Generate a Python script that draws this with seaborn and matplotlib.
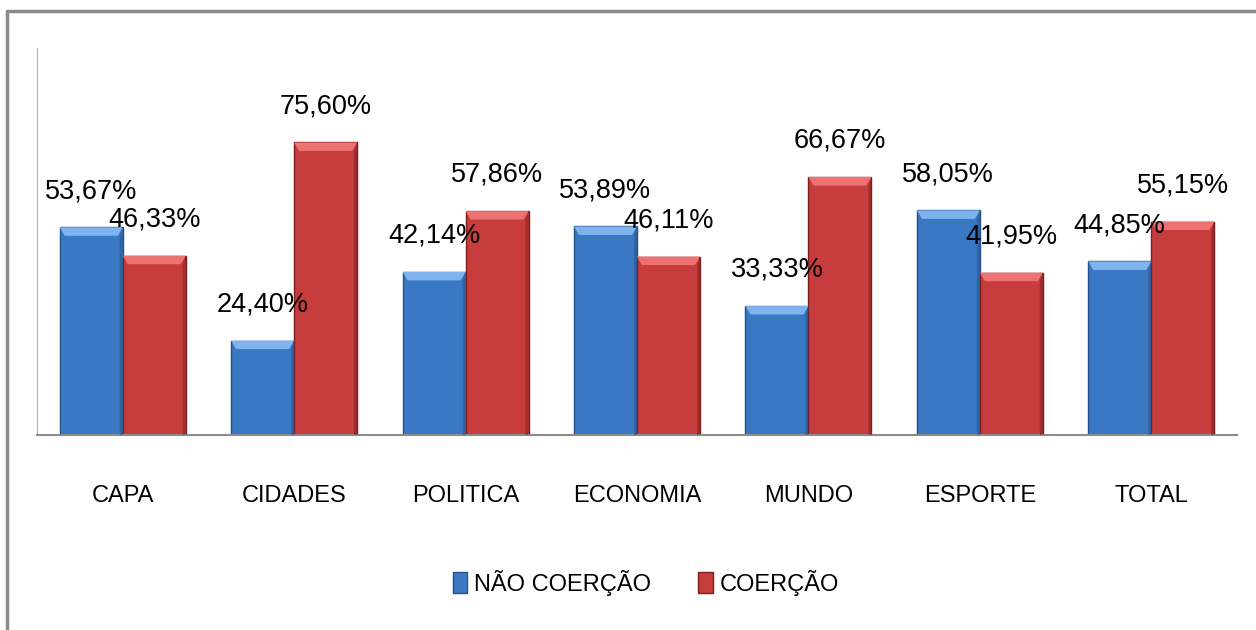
import pandas as pd
import matplotlib.pyplot as plt
import seaborn as sns
from matplotlib.lines import Line2D
from matplotlib.patches import Polygon

# Data
categories = ['CAPA', 'CIDADES', 'POLITICA', 'ECONOMIA', 'MUNDO', 'ESPORTE', 'TOTAL']
nao_coercao = [53.67, 24.40, 42.14, 53.89, 33.33, 58.05, 44.85]
coercao = [46.33, 75.60, 57.86, 46.11, 66.67, 41.95, 55.15]
series = ['NÃO COERÇÃO', 'COERÇÃO']
colors = ['#3b78c4', '#c73c3c']
edge_colors = ['#24508a', '#7a1e1e']
top_colors = ['#7fb3ee', '#ee7272']

df = pd.DataFrame({
    'categoria': categories * 2,
    'serie': [series[0]] * len(categories) + [series[1]] * len(categories),
    'valor': nao_coercao + coercao,
})

sns.set_style('white')
plt.rcParams['font.family'] = ['Liberation Sans', 'DejaVu Sans']

fig = plt.figure(figsize=(12.56, 6.3), dpi=100)
ax = fig.add_axes([37 / 1256, 1 - 435 / 630, 1200 / 1256, 387 / 630])

sns.barplot(data=df, x='categoria', y='valor', hue='serie', hue_order=series,
            palette=colors, width=0.735, saturation=1, ax=ax, legend=False)

ax.set_xlim(-0.5, len(categories) - 0.5)
ax.set_ylim(0, 100)

# bevel look + value labels
for i, container in enumerate(ax.containers):
    for bar, val in zip(container, [nao_coercao, coercao][i]):
        bar.set_edgecolor(edge_colors[i])
        bar.set_linewidth(1.0)
        x0, y0 = bar.get_x(), bar.get_y()
        w, h = bar.get_width(), bar.get_height()
        bevel_x = w * 0.08
        bevel_y = 2.2
        ax.add_patch(Polygon([[x0, y0 + h], [x0 + w, y0 + h],
                              [x0 + w - bevel_x, y0 + h - bevel_y],
                              [x0 + bevel_x, y0 + h - bevel_y]],
                             closed=True, facecolor=top_colors[i], edgecolor='none', zorder=3))
        ax.add_patch(Polygon([[x0 + w, y0], [x0 + w, y0 + h],
                              [x0 + w - bevel_x * 0.6, y0 + h - bevel_y],
                              [x0 + w - bevel_x * 0.6, y0]],
                             closed=True, facecolor=edge_colors[i], edgecolor='none',
                             alpha=0.5, zorder=3))
        ax.text(x0 + w / 2, y0 + h + 6, f'{val:.2f}%'.replace('.', ','),
                ha='center', va='bottom', fontsize=19.5, color='black', zorder=4)

ax.set_xlabel('')
ax.set_ylabel('')
ax.set_yticks([])
ax.tick_params(axis='x', length=0, pad=36, labelsize=17, labelcolor='black')

for side in ['top', 'right']:
    ax.spines[side].set_visible(False)
ax.spines['left'].set_color('#b0b0b0')
ax.spines['bottom'].set_color('#8c8c8c')
ax.spines['bottom'].set_linewidth(1.5)

handles = [plt.Rectangle((0, 0), 1, 1, facecolor=colors[k], edgecolor=edge_colors[k])
           for k in range(2)]
leg = fig.legend(handles, series, loc='center', bbox_to_anchor=(646 / 1256, 1 - 583 / 630),
                 ncol=2, frameon=False, fontsize=17, handlelength=0.6, handleheight=1.0,
                 handletextpad=0.3, columnspacing=2.0)
for t in leg.get_texts():
    t.set_color('black')

# outer frame (top and left only visible)
fig.add_artist(Line2D([7 / 1256, 7 / 1256], [0, 1 - 11 / 630], color='#8a8a8a', lw=2.5))
fig.add_artist(Line2D([7 / 1256, 1], [1 - 11 / 630, 1 - 11 / 630], color='#8a8a8a', lw=2.5))

fig.savefig('out.png', dpi=100)
